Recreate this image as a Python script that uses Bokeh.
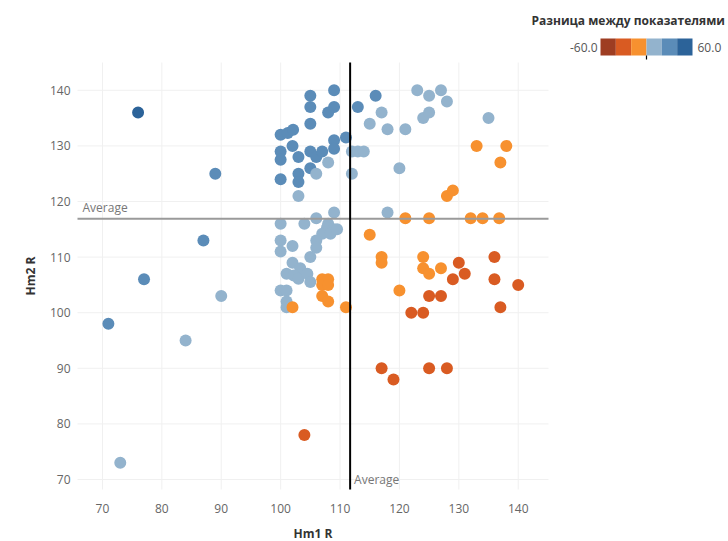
import math
from bokeh.plotting import figure
from bokeh.models import (LinearColorMapper, Label, BoxAnnotation,
                          ColumnDataSource, Range1d)
from bokeh.transform import transform
from bokeh.embed import file_html
from bokeh.resources import INLINE

# ---------------- data ----------------
hm1 = [
    # blue (medium / dark)
    76, 89, 87, 77, 71,
    105, 109, 105, 109, 108, 113, 116, 105,
    100, 101.2, 102.1, 109, 111,
    100, 100, 102, 103, 105, 106, 107, 109,
    105, 103, 100, 103,
    # light blue
    90, 84, 73,
    117, 115, 118, 121, 123, 125, 127, 128, 124, 125, 135,
    118, 108, 112, 113, 114, 106, 103, 112, 120,
    109, 100, 104, 106, 108,
    107.8, 108.9, 107, 108.4, 109.5,
    106, 106, 100, 100, 102, 105,
    102, 103.3,
    101, 102.2, 103, 104.5, 105,
    100, 101, 101, 101,
    # orange
    133, 138, 137, 128, 129,
    121, 125, 132, 134, 136.8,
    115, 117, 117, 124, 124, 125, 127, 120,
    102, 107, 108, 107, 108, 107, 108, 111,
    # orange-red
    104, 130, 131, 129, 136, 136, 140, 137,
    125, 127, 122, 124, 117, 125, 128, 119,
]
hm2 = [
    136, 125, 113, 106, 98,
    139, 140, 137, 137, 136, 137, 139, 134,
    132, 132.3, 132.9, 131, 131.5,
    129, 127.5, 130, 128, 129, 128, 129, 129.5,
    126, 125, 124, 123.5,
    103, 95, 73,
    136, 134, 133, 133, 140, 139, 140, 138, 135, 136, 135,
    118, 127, 129, 129, 129, 125, 121, 125, 126,
    118, 116, 116, 117, 116,
    115.3, 115, 114.2, 114.2, 115,
    113, 111.7, 113, 111, 112, 110,
    109, 108,
    107, 106.7, 106.1, 107, 105.5,
    104, 104, 102, 101,
    130, 130, 127, 121, 122,
    117, 117, 117, 117, 117,
    114, 110, 109, 110, 108, 107, 108, 104,
    101, 106, 106, 105, 105, 103, 102, 101,
    78, 109, 107, 106, 110, 106, 105, 101,
    103, 103, 100, 100, 90, 90, 90, 88,
]
diff = [b - a for a, b in zip(hm1, hm2)]

x_ticks = [70, 80, 90, 100, 110, 120, 130, 140]
y_ticks = [70, 80, 90, 100, 110, 120, 130, 140]
x_title = "Hm1 R"
y_title = "Hm2 R"
avg_hm1 = 111.7
avg_hm2 = 116.9
legend_low, legend_high = -60, 60
palette = ["#9e3d22", "#d95b22", "#f7912f", "#93b3cd", "#5b8cb8", "#2c6399"]
legend_title = "Разница между показателями"

# visible plotting area (data) and its pixel layout on the 728x541 canvas
x_lo, x_hi = 65.8, 145.1
y_lo, y_hi = 68.2, 145.0
W, H = 728, 541
PL, PT, PR, PB = 77, 62, 548, 489      # plot-area edges in canvas px
FONT = "Open Sans"

ppx = (PR - PL) / (x_hi - x_lo)
ppy = (PB - PT) / (y_hi - y_lo)
x_start, x_end = x_lo - PL / ppx, x_lo + (W - PL) / ppx
y_start, y_end = y_lo - (H - PB) / ppy, y_lo + PB / ppy

p = figure(width=W, height=H,
           x_range=Range1d(x_start, x_end), y_range=Range1d(y_start, y_end),
           x_axis_type=None, y_axis_type=None,
           output_backend="svg", toolbar_location=None,
           min_border=0, min_border_left=0, min_border_right=0,
           min_border_top=0, min_border_bottom=0,
           background_fill_color="white", border_fill_color="white")
p.outline_line_color = None
p.grid.visible = False


def dx(px):       # pixel distance -> x data distance
    return px / ppx


def dy(px):       # pixel distance -> y data distance
    return px / ppy


# grid lines limited to the plot area
p.segment(x0=x_ticks, y0=[y_lo] * len(x_ticks), x1=x_ticks, y1=[y_hi] * len(x_ticks),
          line_color="#f0f0f0", line_width=1)
p.segment(x0=[x_lo] * len(y_ticks), y0=y_ticks, x1=[x_hi] * len(y_ticks), y1=y_ticks,
          line_color="#f0f0f0", line_width=1)

# tick labels
p.text(x=x_ticks, y=[y_lo - dy(19)] * len(x_ticks), text=[str(t) for t in x_ticks],
       text_align="center", text_baseline="middle",
       text_font={"value": FONT}, text_font_size="12px", text_color="#666666")
p.text(x=[x_lo - dx(7)] * len(y_ticks), y=y_ticks, text=[str(t) for t in y_ticks],
       text_align="right", text_baseline="middle",
       text_font={"value": FONT}, text_font_size="12px", text_color="#666666")

# axis titles
p.add_layout(Label(x=(x_lo + x_hi) / 2, y=y_lo - dy(44), text=x_title,
                   text_align="center", text_baseline="middle",
                   text_font=FONT, text_font_size="12px", text_font_style="bold",
                   text_color="#333333"))
p.add_layout(Label(x=x_lo - dx(47), y=(y_lo + y_hi) / 2, text=y_title, angle=math.pi / 2,
                   text_align="center", text_baseline="middle",
                   text_font=FONT, text_font_size="12px", text_font_style="bold",
                   text_color="#333333"))

# points
mapper = LinearColorMapper(palette=palette, low=legend_low, high=legend_high)
src = ColumnDataSource(dict(hm1=hm1, hm2=hm2, diff=diff))
p.scatter(x="hm1", y="hm2", source=src, size=12,
          fill_color=transform("diff", mapper), line_color=None)

# average reference lines (drawn above the points)
p.segment(x0=[x_lo], y0=[avg_hm2], x1=[x_hi], y1=[avg_hm2],
          line_color="#9a9a9a", line_width=2)
p.segment(x0=[avg_hm1], y0=[y_lo], x1=[avg_hm1], y1=[y_hi],
          line_color="black", line_width=2)
p.add_layout(Label(x=x_lo, y=avg_hm2, x_offset=5, y_offset=3,
                   text="Average", text_baseline="bottom",
                   text_font=FONT, text_font_size="12px", text_color="#777777"))
p.add_layout(Label(x=avg_hm1, y=y_lo, x_offset=4, y_offset=2,
                   text="Average", text_baseline="bottom",
                   text_font=FONT, text_font_size="12px", text_color="#777777"))

# ---------------- colour legend (screen px from canvas bottom-left) ----------------
def sy(py):
    return H - py


n = len(palette)
bar_l, bar_w, bar_t, bar_b = 600, 92, 38, 55
seg = bar_w / n
p.add_layout(Label(x=531, y=sy(20), x_units="screen", y_units="screen",
                   text=legend_title, text_baseline="middle",
                   text_font=FONT, text_font_size="12px",
                   text_font_style="bold", text_color="#333333"))
for i, c in enumerate(palette):
    p.add_layout(BoxAnnotation(left=bar_l + i * seg, right=bar_l + (i + 1) * seg,
                               top=sy(bar_t), bottom=sy(bar_b),
                               left_units="screen", right_units="screen",
                               top_units="screen", bottom_units="screen",
                               fill_color=c, fill_alpha=1, line_color=None))
p.add_layout(BoxAnnotation(left=bar_l + 3 * seg - 0.6, right=bar_l + 3 * seg + 0.6,
                           top=sy(bar_b), bottom=sy(bar_b + 4),
                           left_units="screen", right_units="screen",
                           top_units="screen", bottom_units="screen",
                           fill_color="black", fill_alpha=1, line_color=None))
p.add_layout(Label(x=bar_l - 3, y=sy((bar_t + bar_b) / 2), x_units="screen", y_units="screen",
                   text=f"{legend_low:.1f}", text_align="right", text_baseline="middle",
                   text_font=FONT, text_font_size="12px", text_color="#555555"))
p.add_layout(Label(x=bar_l + bar_w + 5, y=sy((bar_t + bar_b) / 2), x_units="screen", y_units="screen",
                   text=f"{legend_high:.1f}", text_align="left", text_baseline="middle",
                   text_font=FONT, text_font_size="12px", text_color="#555555"))

open("out.html", "w").write(file_html(p, INLINE))
